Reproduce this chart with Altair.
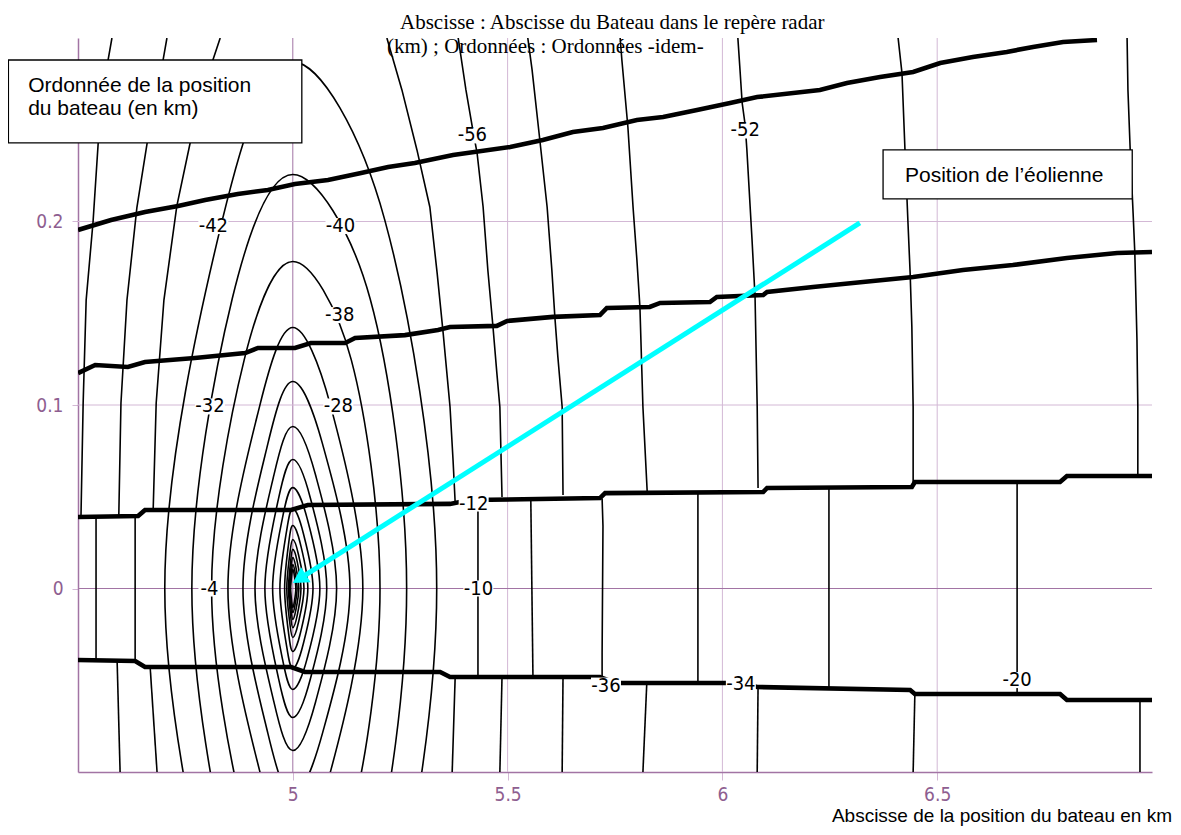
import math
import altair as alt
import pandas as pd

# ------------------------------------------------------------------ data
x_domain = [4.5, 7.0]
y_domain = [-0.1, 0.3]
x_tick_values = [5.0, 5.5, 6.0, 6.5]
y_tick_values = [0.0, 0.1, 0.2]

# thick stair-step contours (x km, y km)
thick_A = [(4.500, 0.1954), (4.577, 0.2008), (4.656, 0.2052), (4.733, 0.2085), (4.796, 0.2117),
           (4.872, 0.2150), (4.942, 0.2172), (5.005, 0.2204), (5.082, 0.2226), (5.159, 0.2264),
           (5.222, 0.2297), (5.284, 0.2319), (5.373, 0.2362), (5.506, 0.2406), (5.582, 0.2444),
           (5.652, 0.2488), (5.722, 0.2510), (5.801, 0.2553), (5.862, 0.2569), (5.941, 0.2608),
           (6.018, 0.2646), (6.081, 0.2678), (6.227, 0.2717), (6.290, 0.2755), (6.367, 0.2787),
           (6.444, 0.2815), (6.507, 0.2864), (6.583, 0.2896), (6.662, 0.2924), (6.723, 0.2951),
           (6.793, 0.2978), (6.872, 0.2989)]
thick_B = [(4.500, 0.1174), (4.540, 0.1218), (4.616, 0.1207), (4.656, 0.1234), (4.772, 0.1256),
           (4.889, 0.1283), (4.919, 0.1311), (5.005, 0.1311), (5.042, 0.1338), (5.122, 0.1338),
           (5.145, 0.1365), (5.261, 0.1381), (5.338, 0.1409), (5.366, 0.1425), (5.475, 0.1431),
           (5.499, 0.1458), (5.606, 0.1480), (5.715, 0.1490), (5.731, 0.1529), (5.831, 0.1534),
           (5.855, 0.1556), (5.971, 0.1561), (5.987, 0.1589), (6.095, 0.1599), (6.104, 0.1616),
           (6.211, 0.1643), (6.327, 0.1670), (6.444, 0.1698), (6.560, 0.1736), (6.676, 0.1763),
           (6.802, 0.1801), (6.919, 0.1828), (7.000, 0.1834)]
thick_C = [(4.500, 0.0390), (4.640, 0.0395), (4.656, 0.0428), (4.996, 0.0428), (5.035, 0.0455),
           (5.366, 0.0461), (5.412, 0.0482), (5.715, 0.0493), (5.727, 0.0520), (6.095, 0.0526),
           (6.104, 0.0548), (6.441, 0.0553), (6.448, 0.0580), (6.786, 0.0580), (6.802, 0.0613),
           (7.000, 0.0613)]
thick_D = [(4.500, -0.0390), (4.633, -0.0395), (4.656, -0.0428), (4.996, -0.0428), (5.028, -0.0455),
           (5.343, -0.0455), (5.366, -0.0482), (5.715, -0.0482), (5.750, -0.0515), (6.041, -0.0515),
           (6.081, -0.0537), (6.437, -0.0553), (6.448, -0.0575), (6.786, -0.0575), (6.802, -0.0608),
           (7.000, -0.0608)]

# nested closed contours around the boat-radar point (5, 0)
ell_center = (5.0, 0.0)
ell_half_height = [0.2870, 0.2256, 0.1782, 0.1422, 0.1128, 0.0883, 0.0703, 0.0550,
                   0.0436, 0.0343, 0.0267, 0.0213, 0.0169, 0.0131, 0.0104]
ell_left_w = [0.298, 0.235, 0.189, 0.151, 0.116, 0.088, 0.065, 0.047,
              0.030, 0.019, 0.014, 0.010, 0.008, 0.006, 0.005]
ell_right_w = [0.335, 0.265, 0.203, 0.163, 0.133, 0.102, 0.079, 0.063,
               0.047, 0.035, 0.026, 0.019, 0.014, 0.010, 0.007]
shoulder_level = 0.7   # fraction of half height where the shoulder widths were read
ell_left_shoulder = [0.164, 0.141, 0.113, 0.077, 0.058, 0.044, 0.033, 0.024,
                     0.015, 0.010, 0.007, 0.005, 0.004, 0.003, 0.0025]
ell_right_shoulder = [0.214, 0.180, 0.136, 0.088, 0.069, 0.053, 0.041, 0.033,
                      0.024, 0.018, 0.013, 0.010, 0.007, 0.005, 0.0035]

# thin contours on the far left
far_left_lines = [
    [(4.579, 0.300), (4.570, 0.288), (4.547, 0.2428), (4.535, 0.1997), (4.519, 0.1572), (4.512, 0.1011), (4.507, 0.040)],
    [(4.707, 0.300), (4.698, 0.288), (4.661, 0.2428), (4.637, 0.2074), (4.614, 0.1572), (4.600, 0.1011), (4.595, 0.040)],
    [(4.831, 0.300), (4.814, 0.288), (4.761, 0.2428), (4.730, 0.2084), (4.700, 0.1572), (4.682, 0.1011), (4.675, 0.043)],
    [(4.542, 0.039), (4.542, -0.039)],
    [(4.633, 0.039), (4.633, -0.039)],
    [(4.591, -0.039), (4.598, -0.100)],
    [(4.668, -0.043), (4.684, -0.100)],
]
# thin contours in the upper right (from the top edge down to the third thick line)
upper_right_lines = [
    [(5.219, 0.300), (5.254, 0.2717), (5.289, 0.2390), (5.319, 0.2079), (5.336, 0.1719), (5.350, 0.1392), (5.366, 0.0989), (5.373, 0.0700), (5.378, 0.0466)],
    [(5.385, 0.300), (5.403, 0.2717), (5.419, 0.2499), (5.429, 0.2373), (5.443, 0.2079), (5.454, 0.1736), (5.466, 0.1425), (5.475, 0.1174), (5.482, 0.0989), (5.487, 0.0499)],
    [(5.547, 0.300), (5.557, 0.2826), (5.575, 0.2444), (5.592, 0.2079), (5.603, 0.1736), (5.610, 0.1480), (5.617, 0.1262), (5.627, 0.0989), (5.629, 0.0510)],
    [(5.762, 0.300), (5.766, 0.2880), (5.780, 0.2515), (5.792, 0.2079), (5.801, 0.1790), (5.808, 0.1534), (5.815, 0.0989), (5.825, 0.0525)],
    [(6.036, 0.300), (6.041, 0.2826), (6.046, 0.2646), (6.053, 0.2526), (6.057, 0.2390), (6.069, 0.1899), (6.076, 0.1589), (6.081, 0.0989), (6.083, 0.0548)],
    [(6.409, 0.300), (6.418, 0.2809), (6.425, 0.2390), (6.432, 0.1992), (6.437, 0.1719), (6.441, 0.1425), (6.444, 0.0989), (6.444, 0.0560)],
    [(6.942, 0.300), (6.944, 0.2717), (6.949, 0.2406), (6.956, 0.2046), (6.960, 0.1828), (6.965, 0.1354), (6.967, 0.0989), (6.967, 0.0613)],
]
# thin contours of the central band (right part) and of the lower band
band_lines = [
    [(5.431, 0.0488), (5.431, -0.048)],
    [(5.554, 0.049), (5.559, -0.048)],
    [(5.720, 0.049), (5.722, 0.034), (5.720, -0.035), (5.720, -0.050)],
    [(5.943, 0.052), (5.943, -0.0515)],
    [(6.248, 0.0548), (6.248, -0.0548)],
    [(6.686, 0.058), (6.686, -0.0575)],
    [(5.378, -0.048), (5.371, -0.100)],
    [(5.487, -0.048), (5.482, -0.100)],
    [(5.629, -0.048), (5.627, -0.100)],
    [(5.824, -0.0515), (5.815, -0.100)],
    [(6.083, -0.0537), (6.081, -0.100)],
    [(6.448, -0.0575), (6.444, -0.100)],
    [(6.972, -0.0608), (6.972, -0.100)],
]

# contour level labels
contour_labels = ["-56", "-52", "-42", "-40", "-38", "-32", "-28", "-4", "-12", "-10", "-36", "-34", "-20"]
contour_label_x = [5.418, 6.053, 4.815, 5.111, 5.109, 4.807, 5.106, 4.806, 5.421, 5.432, 5.729, 6.043, 6.686]
contour_label_y = [0.2469, 0.2496, 0.1975, 0.1975, 0.1490, 0.0992, 0.0992, 0.0, 0.0463, 0.0, -0.0529, -0.0523, -0.0499]

# cyan arrow towards the wind turbine position
arrow_tail = (6.320, 0.1992)
arrow_tip = (5.0, 0.003)

# annotation boxes and texts
note_boxes = [(4.338, 5.021, 0.2428, 0.2880), (6.374, 6.954, 0.2123, 0.2390)]
note_texts = ["Ordonnée de la position", "du bateau (en km)", "Position de l’éolienne"]
note_text_x = [4.384, 4.384, 6.425]
note_text_y = [0.2706, 0.2580, 0.2215]

title_lines = ["Abscisse : Abscisse du Bateau dans le repère radar", "(km) ; Ordonnées : Ordonnées -idem-"]
title_x = [5.2495, 5.2193]
title_y = [0.3049, 0.2918]

x_label_text = ["Abscisse de la position du bateau en km"]
x_label_x = [7.0466]
x_label_y = [-0.1272]

# ------------------------------------------------------------------ styling
W, H = 1074, 734
PURPLE = "#8E5E90"
GRID_DARK = "#A274A4"
GRID_LIGHT = "#D3B8D5"
NARROW = "Liberation Sans Narrow, Arial Narrow, DejaVu Sans Condensed, sans-serif"
SANS = "Liberation Sans, Arial, sans-serif"
SERIF = "Liberation Serif, Times New Roman, serif"

xs = alt.Scale(domain=x_domain, nice=False, zero=False)
ys = alt.Scale(domain=y_domain, nice=False, zero=False)
x_axis = alt.Axis(values=x_tick_values, format=".1~f", title=None, grid=False,
                  domainColor=GRID_DARK, domainWidth=1.5, tickColor=GRID_LIGHT, tickSize=8,
                  tickWidth=1, labelColor=PURPLE, labelFont=NARROW, labelFontSize=19,
                  labelPadding=5, labelFlush=False)
y_axis = alt.Axis(values=y_tick_values, format=".1~f", title=None, grid=False,
                  domainColor=GRID_DARK, domainWidth=1.5, tickColor=GRID_LIGHT, tickSize=6,
                  tickWidth=1, labelColor=PURPLE, labelFont=NARROW, labelFontSize=19,
                  labelPadding=9)


def X(f="x"):
    return alt.X(f"{f}:Q", scale=xs, axis=x_axis)


def Y(f="y"):
    return alt.Y(f"{f}:Q", scale=ys, axis=y_axis)


def lines_df(lines, prefix):
    rows = []
    for k, pts in enumerate(lines):
        for i, (x, y) in enumerate(pts):
            rows.append({"id": f"{prefix}{k}", "i": i, "x": x, "y": y})
    return pd.DataFrame(rows)


# ellipse-like closed contours from their read extents
ell_rows = []
cx, cy = ell_center
for k, (b, wl, wr, sl, sr) in enumerate(zip(ell_half_height, ell_left_w, ell_right_w,
                                             ell_left_shoulder, ell_right_shoulder)):
    h = shoulder_level * b
    pts = [(cx, cy + b), (cx + sr, cy + h), (cx + wr, cy), (cx + sr, cy - h),
           (cx, cy - b), (cx - sl, cy - h), (cx - wl, cy), (cx - sl, cy + h)]
    for i, (x, y) in enumerate(pts):
        ell_rows.append({"id": f"e{k}", "i": i, "x": x, "y": y})
ell_df = pd.DataFrame(ell_rows)

thin_df = pd.concat([lines_df(far_left_lines, "fl"), lines_df(upper_right_lines, "ur"),
                     lines_df(band_lines, "bl")], ignore_index=True)
thick_df = lines_df([thick_A, thick_B, thick_C, thick_D], "t")

vgrid = pd.DataFrame({"x": x_tick_values})
vgrid["c"] = [GRID_DARK if v == 5.0 else GRID_LIGHT for v in x_tick_values]
hgrid = pd.DataFrame({"y": y_tick_values})
hgrid["c"] = [GRID_DARK if v == 0.0 else GRID_LIGHT for v in y_tick_values]

labels_df = pd.DataFrame({"t": contour_labels, "x": contour_label_x, "y": contour_label_y})
lab3 = labels_df[labels_df["t"].str.len() >= 3]
lab2 = labels_df[labels_df["t"].str.len() < 3]

# arrow head: a triangle whose point sits on the tip, rotated along the shaft
kx = W / (x_domain[1] - x_domain[0])
ky = H / (y_domain[1] - y_domain[0])
dxp = (arrow_tip[0] - arrow_tail[0]) * kx
dyp = -(arrow_tip[1] - arrow_tail[1]) * ky
L = math.hypot(dxp, dyp)
ux, uy = dxp / L, dyp / L
HEAD_SIZE = 320
head_h = math.sqrt(3) / 2 * math.sqrt(HEAD_SIZE) / 2
head_angle = math.degrees(math.atan2(ux, -uy)) % 360
head_x = arrow_tip[0] - ux * head_h / kx
head_y = arrow_tip[1] + uy * head_h / ky

arrow_df = pd.DataFrame({"x": [arrow_tail[0], head_x], "y": [arrow_tail[1], head_y], "i": [0, 1]})
head_df = pd.DataFrame({"x": [head_x], "y": [head_y]})

boxes_df = pd.DataFrame(note_boxes, columns=["x1", "x2", "y1", "y2"])
notes_df = pd.DataFrame({"t": note_texts, "x": note_text_x, "y": note_text_y})
title_df = pd.DataFrame({"t": title_lines, "x": title_x, "y": title_y})
xlab_df = pd.DataFrame({"t": x_label_text, "x": x_label_x, "y": x_label_y})

# ------------------------------------------------------------------ layers
vgrid_l = alt.Chart(vgrid).mark_rule(strokeWidth=1).encode(
    x=X(), color=alt.Color("c:N", scale=None))
hgrid_l = alt.Chart(hgrid).mark_rule(strokeWidth=1).encode(
    y=Y(), color=alt.Color("c:N", scale=None))

ell_l = alt.Chart(ell_df).mark_line(color="black", strokeWidth=1.6, interpolate="cardinal-closed",
                                    clip=True).encode(x=X(), y=Y(), detail="id:N", order="i:Q")
thin_l = alt.Chart(thin_df).mark_line(color="black", strokeWidth=1.6, clip=True).encode(
    x=X(), y=Y(), detail="id:N", order="i:Q")
thick_l = alt.Chart(thick_df).mark_line(color="black", strokeWidth=4.6, clip=True).encode(
    x=X(), y=Y(), detail="id:N", order="i:Q")

arrow_l = alt.Chart(arrow_df).mark_line(color="#00FFFF", strokeWidth=5).encode(
    x=X(), y=Y(), order="i:Q")
head_l = alt.Chart(head_df).mark_point(shape="triangle-up", filled=True, size=HEAD_SIZE,
                                       angle=round(head_angle, 1), color="#00FFFF",
                                       opacity=1, strokeWidth=0).encode(x=X(), y=Y())

bg3 = alt.Chart(lab3).mark_rect(color="white", xOffset=-15, x2Offset=15, yOffset=-8,
                                y2Offset=8).encode(x=X(), x2=alt.X2("x"), y=Y(), y2=alt.Y2("y"))
bg2 = alt.Chart(lab2).mark_rect(color="white", xOffset=-11, x2Offset=11, yOffset=-8,
                                y2Offset=8).encode(x=X(), x2=alt.X2("x"), y=Y(), y2=alt.Y2("y"))
lab_l = alt.Chart(labels_df).mark_text(font=NARROW, fontSize=20, color="black", align="center",
                                       baseline="middle").encode(x=X(), y=Y(), text="t:N")

box_l = alt.Chart(boxes_df).mark_rect(fill="white", stroke="black", strokeWidth=1.3).encode(
    x=X("x1"), x2=alt.X2("x2"), y=Y("y1"), y2=alt.Y2("y2"))
notes_l = alt.Chart(notes_df).mark_text(font=SANS, fontSize=21, color="black", align="left",
                                        baseline="alphabetic").encode(x=X(), y=Y(), text="t:N")
title_l = alt.Chart(title_df).mark_text(font=SERIF, fontSize=21, color="black", align="left",
                                        baseline="alphabetic").encode(x=X(), y=Y(), text="t:N")
xlab_l = alt.Chart(xlab_df).mark_text(font=SANS, fontSize=19, color="black", align="right",
                                      baseline="alphabetic").encode(x=X(), y=Y(), text="t:N")

chart = alt.layer(
    vgrid_l, hgrid_l, ell_l, thin_l, thick_l, arrow_l, head_l,
    bg3, bg2, lab_l, box_l, notes_l, title_l, xlab_l
).properties(
    width=W, height=H,
    padding={"left": 70, "top": 30, "right": 21, "bottom": 55},
    autosize=alt.AutoSizeParams(type="none"),
).configure_view(stroke="transparent")

chart.save("out.html", embed_options={"renderer": "svg", "actions": False})
